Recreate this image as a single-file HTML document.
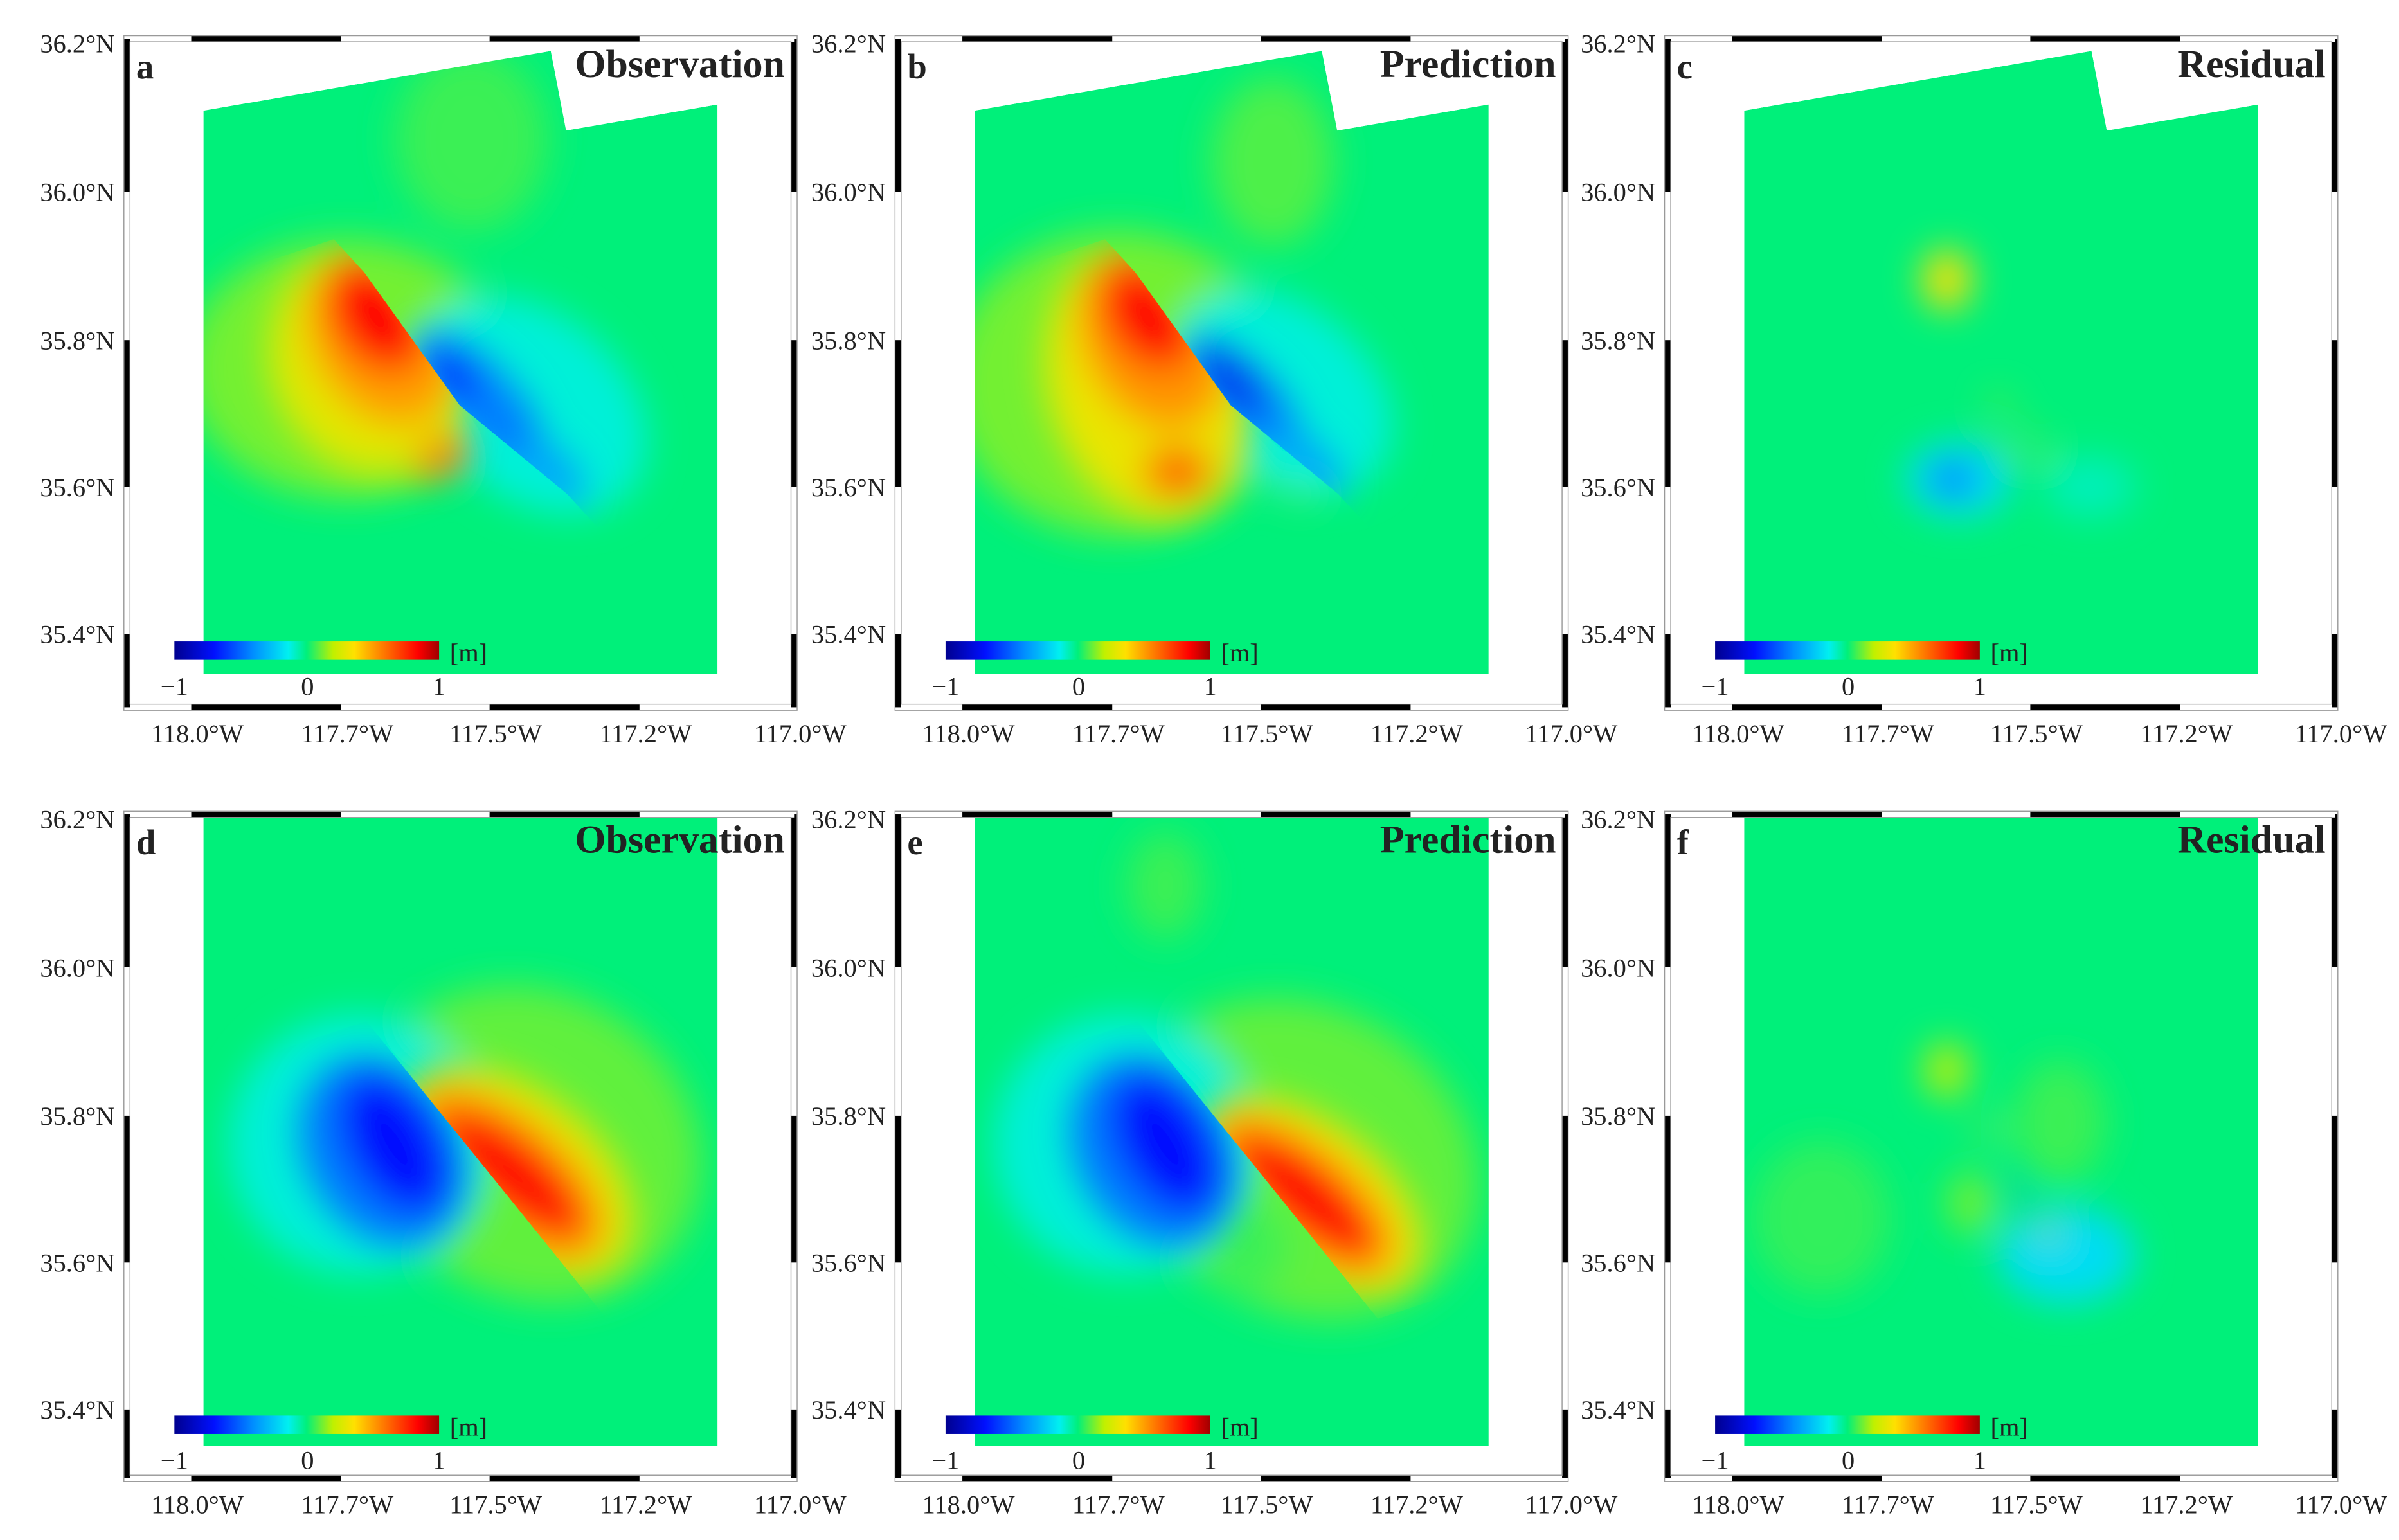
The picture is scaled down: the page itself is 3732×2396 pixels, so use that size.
<!DOCTYPE html>
<html><head><meta charset="utf-8">
<style>
html,body{margin:0;padding:0;background:#fff;}
svg{display:block;}
text{font-family:"Liberation Serif",serif;fill:#222;}
</style></head>
<body>
<svg id="fig" xmlns="http://www.w3.org/2000/svg" width="3732" height="2396" viewBox="0 0 1568 1006">
<defs>
<filter id="blur" x="-50%" y="-50%" width="200%" height="200%"><feGaussianBlur stdDeviation="12"/></filter>
<filter id="blurS" x="-50%" y="-50%" width="200%" height="200%"><feGaussianBlur stdDeviation="3"/></filter>
<linearGradient id="cbar" x1="0" x2="1" y1="0" y2="0">
<stop offset="0" stop-color="#00008f"/><stop offset="0.15" stop-color="#0010ff"/>
<stop offset="0.3" stop-color="#0090ff"/><stop offset="0.43" stop-color="#00f0f0"/>
<stop offset="0.5" stop-color="#00f07a"/><stop offset="0.6" stop-color="#c0f000"/>
<stop offset="0.68" stop-color="#ffe000"/><stop offset="0.8" stop-color="#ff7000"/>
<stop offset="0.92" stop-color="#ff0000"/><stop offset="1" stop-color="#a00000"/>
</linearGradient>
</defs>
</svg>
<script>
// axis tick labels
const lonTicks = ["118.0°W","117.7°W","117.5°W","117.2°W","117.0°W"];
const latTicks = ["36.2°N","36.0°N","35.8°N","35.6°N","35.4°N"];
const panelLetters = ["a","b","c","d","e","f"];
const panelTitles = ["Observation","Prediction","Residual","Observation","Prediction","Residual"];
// fault traces [lon, lat]
const faultTop = [[117.71,35.89],[117.55,35.71],[117.37,35.59]];
const faultBottom = [[117.66,35.88],[117.50,35.72],[117.35,35.57]];
// blobs: [lon, lat, value(m), rx, ry, rotation, side]
const blobsA = [[117.53,36.07,0.06,50,60,0,'all'],[117.74,35.76,0.12,105,85,0,'all'],[117.70,35.77,0.28,65,75,-20,'sw'],[117.68,35.80,0.5,45,60,-30,'sw'],[117.69,35.83,0.85,28,40,-35,'sw'],[117.58,35.64,0.6,20,11,-30,'sw'],[117.43,35.71,-0.12,85,60,40,'all'],[117.52,35.72,-0.4,55,24,45,'ne'],[117.55,35.74,-0.7,32,12,45,'ne'],[117.47,35.67,-0.45,38,18,45,'ne'],[117.40,35.62,-0.35,28,15,45,'ne']];
const blobsB = [[117.48,36.04,0.08,40,55,0,'all'],[117.74,35.74,0.12,110,100,0,'all'],[117.69,35.74,0.3,65,90,-15,'sw'],[117.68,35.80,0.52,45,62,-25,'sw'],[117.69,35.83,0.85,26,38,-35,'sw'],[117.64,35.62,0.65,22,16,0,'sw'],[117.43,35.62,0.1,22,18,0,'all'],[117.46,35.73,-0.12,80,55,40,'all'],[117.53,35.72,-0.42,50,22,45,'ne'],[117.55,35.74,-0.75,30,11,45,'ne'],[117.42,35.63,-0.35,28,14,45,'ne']];
const blobsC = [[117.64,35.88,0.35,16,20,0,'all'],[117.62,35.61,-0.2,35,25,0,'all'],[117.63,35.61,-0.6,14,9,0,'all'],[117.40,35.60,-0.08,30,20,0,'all'],[117.55,35.71,0.3,8,3,45,'all'],[117.50,35.66,0.35,8,3,45,'all']];
const blobsD = [[117.43,35.76,0.1,115,100,30,'all'],[117.46,35.72,0.3,90,55,38,'ne'],[117.47,35.72,0.55,75,35,40,'ne'],[117.46,35.72,0.85,58,22,40,'ne'],[117.72,35.76,-0.12,85,85,0,'all'],[117.68,35.75,-0.45,50,65,-30,'sw'],[117.66,35.76,-0.7,30,50,-30,'sw']];
const blobsE = [[117.66,36.11,0.06,25,35,0,'all'],[117.43,35.74,0.1,120,100,30,'all'],[117.42,35.69,0.33,85,48,38,'ne'],[117.43,35.69,0.6,70,30,40,'ne'],[117.42,35.69,0.85,55,20,40,'ne'],[117.73,35.76,-0.12,85,85,0,'all'],[117.68,35.75,-0.45,50,65,-30,'sw'],[117.66,35.76,-0.7,30,50,-30,'sw'],[117.52,35.62,0.06,25,30,0,'all']];
const blobsF = [[117.64,35.86,0.22,14,18,0,'all'],[117.45,35.79,0.06,30,40,0,'all'],[117.44,35.61,-0.2,45,32,0,'all'],[117.85,35.66,0.05,45,50,0,'all'],[117.60,35.68,0.12,15,20,0,'all'],[117.58,35.78,0.35,6,4,45,'all'],[117.52,35.70,-0.6,8,3,45,'all'],[117.47,35.64,0.4,10,3,45,'all']];
const allBlobs = [blobsA,blobsB,blobsC,blobsD,blobsE,blobsF];

const NS="http://www.w3.org/2000/svg";
const svg=document.getElementById('fig');
function mk(tag,attrs,parent){const e=document.createElementNS(NS,tag);for(const k in attrs)e.setAttribute(k,attrs[k]);(parent||svg).appendChild(e);return e;}
// axis functions (panel-local display coords)
function xLon(lon){return 125+(118-lon)*390;}
function yLat(lat){return 28+(36.2-lat)*483;}
const cStops=[[-1,[0,0,143]],[-0.7,[0,16,255]],[-0.4,[0,144,255]],[-0.15,[0,240,240]],[0,[0,240,122]],[0.2,[192,240,0]],[0.35,[255,224,0]],[0.6,[255,112,0]],[0.85,[255,0,0]],[1,[160,0,0]]];
function color(v){for(let i=1;i<cStops.length;i++){if(v<=cStops[i][0]){const a=cStops[i-1],b=cStops[i];const t=(v-a[0])/(b[0]-a[0]);const c=a[1].map((x,j)=>Math.round(x+(b[1][j]-x)*t));return `rgb(${c})`;}}return 'rgb(160,0,0)';}

const offsets=[[0,0],[504,0],[1007,0],[0,507],[504,507],[1007,507]];
const dataTop="133,72 360,33 370,85 469,68 469,440 133,440";
const dataBot="133,25 469,25 469,438 133,438";

offsets.forEach((o,i)=>{
  const top=i<3;
  const g=mk('g',{transform:`translate(${o[0]},${o[1]})`});
  
  
  const fault=(top?faultTop:faultBottom).map(p=>[xLon(p[0]),yLat(p[1])]);
  const f0=fault[0],fn=fault[fault.length-1];
  const d=[fn[0]-f0[0],fn[1]-f0[1]];
  const e1=[f0[0]-0.15*d[0],f0[1]-0.15*d[1]],e2=[fn[0]+0.15*d[0],fn[1]+0.15*d[1]];
  const line=[e1,...fault,e2].map(p=>p.join(',')).join(' ');
  const cid='p'+i;
  const defs=mk('defs',{},g);
  const cd=mk('clipPath',{id:cid+'data'},defs);mk('polygon',{points:top?dataTop:dataBot},cd);
  const cs=mk('clipPath',{id:cid+'sw'},defs);mk('polygon',{points:line+' '+(e2[0]-300)+','+(e2[1]+200)+' '+(e1[0]-300)+','+(e1[1]+100)},cs);
  const cn=mk('clipPath',{id:cid+'ne'},defs);mk('polygon',{points:line+' '+(e2[0]+300)+','+(e2[1]-100)+' '+(e1[0]+300)+','+(e1[1]-200)},cn);
  const dg=mk('g',{'clip-path':`url(#${cid}data)`},g);
  const bg=mk('polygon',{points:top?dataTop:dataBot,fill:'#00f07a'},dg);
  
  
  const groups={};
  ['all','sw','ne'].forEach(s=>{
    const cg=mk('g',s==='all'?{}:{'clip-path':`url(#${cid}${s})`},dg);
    groups[s]=mk('g',{filter:'url(#blur)'},cg);
  });
  allBlobs[i].forEach(b=>{
    const small=b[3]<12;
    const el=mk('ellipse',{cx:xLon(b[0]),cy:yLat(b[1]),rx:b[3],ry:b[4],fill:color(b[2]),transform:`rotate(${b[5]} ${xLon(b[0])} ${yLat(b[1])})`},groups[b[6]]);
    if(small)el.setAttribute('filter','url(#blurS)');
    
    
  });
  // frame
  const x0=83,x1=519,y0=25,y1=top?462:459;
  const fr=mk('g',{},g);
  
  
  const xb=[83,125,223,320,418,519];
  const yb=top?[25,125,222,318,414,462]:[25,125,222,318,414,459];
  for(let k=0;k<5;k++){
    const c=k%2?'#000':'#fff';
    mk('rect',{x:xb[k],y:y0-2,width:xb[k+1]-xb[k],height:4,fill:c},fr);
    mk('rect',{x:xb[k],y:y1-2,width:xb[k+1]-xb[k],height:4,fill:c},fr);
    const c2=k%2?'#fff':'#000';
    mk('rect',{x:x0-2,y:yb[k],width:4,height:yb[k+1]-yb[k],fill:c2},fr);
    mk('rect',{x:x1-2,y:yb[k],width:4,height:yb[k+1]-yb[k],fill:c2},fr);
  }
  mk('rect',{x:x0-2,y:y0-2,width:x1-x0+4,height:y1-y0+4,fill:'none',stroke:'#999','stroke-width':0.6},fr);
  mk('rect',{x:x0+2,y:y0+2,width:x1-x0-4,height:y1-y0-4,fill:'none',stroke:'#999','stroke-width':0.6},fr);
  // tick labels
  lonTicks.forEach((t,k)=>{const tx=mk('text',{x:xb[k+1]+4,y:y1+23,'font-size':17,'text-anchor':'middle'},g);tx.textContent=t;
    });
  latTicks.forEach((t,k)=>{const tx=mk('text',{x:x0-8,y:[28,125,222,318,414][k]+6,'font-size':17,'text-anchor':'end'},g);tx.textContent=t;
    });
  // letter and title
  const lt=mk('text',{x:89,y:51,'font-size':23,'font-weight':'bold'},g);lt.textContent=panelLetters[i];
  
  const tt=mk('text',{x:513,y:50,'font-size':26,'font-weight':'bold','text-anchor':'end'},g);tt.textContent=panelTitles[i];
  
  // colorbar
  const cy=top?419:418;
  const cb=mk('rect',{x:114,y:cy,width:173,height:12,fill:'url(#cbar)'},g);
  
  [['−1',114],['0',201],['1',287]].forEach(l=>{const tx=mk('text',{x:l[1],y:cy+35,'font-size':17,'text-anchor':'middle'},g);tx.textContent=l[0];
    });
  const un=mk('text',{x:294,y:cy+13,'font-size':17},g);un.textContent='[m]';
  
});
</script>
</body></html>
